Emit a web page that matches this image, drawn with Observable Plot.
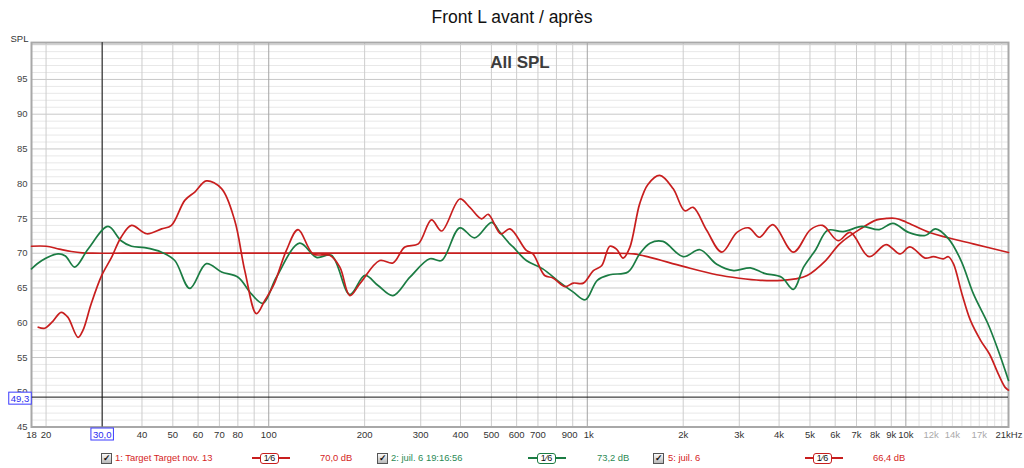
<!DOCTYPE html>
<html><head><meta charset="utf-8">
<script src="https://cdn.jsdelivr.net/npm/d3@7"></script>
<script src="https://cdn.jsdelivr.net/npm/@observablehq/plot@0.6"></script>
<style>
html,body{margin:0;padding:0;background:#fff;overflow:hidden;}
body{width:1024px;height:468px;font-family:"Liberation Sans",Arial,sans-serif;}
#title{height:26px;box-sizing:border-box;padding-top:7px;font-size:17.5px;line-height:20px;text-align:center;color:#111;}
#chart{height:418px;}
#chart svg{display:block;overflow:visible;}
#legend{position:relative;height:24px;font-size:9.4px;}
#legend .cb{position:absolute;top:9px;width:9px;height:9px;border:1px solid #555;background:linear-gradient(#fafafa,#b8b8b8);font-size:9px;line-height:9px;text-align:center;color:#111;font-weight:bold;}
#legend .txt{position:absolute;top:7px;line-height:14px;white-space:nowrap;}
#legend .ln{position:absolute;top:13px;height:0;border-top:2px solid;}
#legend .box{position:absolute;top:8.5px;height:9px;border:1.5px solid;border-radius:3px;background:#fff;font-size:9px;line-height:9px;text-align:center;color:#111;}
</style></head><body>
<div id="title">Front L avant / après</div>
<div id="chart"></div>
<div id="legend"></div>
<script>
// ---- data ----
const targetFreq = [18, 20, 22, 24, 26, 28, 35, 60, 100, 200, 400, 700, 1000, 1200, 1400, 1573, 2000, 2549, 3000, 3500, 4100, 4500, 4900, 5600, 6200, 7200, 8100, 8700, 9300, 10000, 12000, 16270, 21000];
const targetDb   = [71.0, 71.0, 70.6, 70.25, 70.05, 70.0, 70.0, 70.0, 70.0, 70.0, 70.0, 70.0, 70.0, 70.0, 69.9, 69.4, 68.1, 66.9, 66.4, 66.1, 66.1, 66.3, 66.8, 68.95, 71.35, 73.5, 74.8, 75.0, 75.0, 74.5, 72.9, 71.35, 70.1];

const greenFreq = [18.0, 19.4, 21.8, 23.0, 24.6, 27.1, 31.3, 34.4, 37.1, 40.8, 46.1, 50.7, 56.5, 63.7, 71.1, 80.1, 88.2, 95.9, 105.7, 125, 141.2, 157.3, 179.7, 200.4, 220.4, 245.4, 277.5, 320.3, 348.8, 397.9, 443.1, 501, 532, 572, 585, 643.7, 725, 820, 904, 986, 1075, 1177, 1342, 1460, 1573, 1728, 2000, 2258, 2549, 2880, 3251, 3597, 4071, 4436, 4774, 5212, 5682, 6355, 7282, 8250, 9107, 10200, 11500, 12400, 13600, 14900, 16300, 18100, 19500, 21000];
const greenDb   = [67.75, 68.95, 69.9, 69.6, 68.0, 70.6, 73.85, 71.8, 71.0, 70.8, 70.15, 68.95, 64.95, 68.5, 67.3, 66.55, 64.15, 62.8, 66.55, 71.45, 69.4, 69.7, 64.05, 66.8, 65.35, 63.9, 66.55, 69.2, 68.95, 73.65, 72.2, 74.45, 73.0, 71.3, 70.9, 68.95, 67.75, 65.8, 64.4, 63.3, 66.1, 66.9, 67.3, 69.9, 71.45, 71.7, 69.5, 70.5, 68.4, 67.5, 67.9, 67.1, 66.55, 64.8, 68.0, 70.5, 73.3, 73.1, 73.85, 73.4, 74.3, 73.0, 72.55, 73.5, 72.1, 68.95, 64.15, 59.85, 56.0, 51.7];

const redFreq = [18.9, 19.8, 21.0, 22.3, 23.4, 25.2, 26.1, 27.7, 29.9, 32.1, 34.4, 37.1, 41.4, 46.1, 49.5, 54.5, 58.6, 63.7, 71.1, 78.2, 84.1, 91.5, 97.2, 104, 113.6, 123.6, 137.8, 155.4, 167.2, 179.7, 193.2, 223, 245.4, 267.5, 294.8, 324.3, 348.8, 397.9, 428, 465.5, 488.7, 535, 572, 643.7, 675, 734.8, 780, 850.6, 904, 972, 1045, 1109, 1177, 1235, 1296, 1359, 1460, 1550, 1688, 1859, 2023, 2149, 2370, 2644, 2950, 3213, 3466, 3825, 4436, 5020, 5476, 6127, 6689, 7664, 8673, 9577, 10300, 11500, 12200, 13100, 13600, 14100, 15000, 15960, 17200, 18300, 19500, 20500, 21000];
const redDb   = [59.35, 59.2, 60.2, 61.5, 60.8, 57.9, 58.9, 62.7, 66.8, 69.4, 72.3, 74.0, 72.8, 73.5, 74.0, 77.6, 78.8, 80.4, 79.3, 74.7, 67.5, 61.3, 63.2, 65.6, 70.4, 73.4, 69.9, 69.7, 68.0, 63.9, 65.6, 68.95, 68.6, 70.9, 71.35, 74.8, 73.2, 77.8, 76.6, 74.95, 75.6, 72.8, 73.5, 70.4, 69.9, 66.8, 66.45, 65.2, 65.7, 65.7, 67.5, 68.2, 71.0, 70.6, 69.3, 70.8, 77.1, 79.9, 81.2, 79.3, 76.1, 76.6, 73.3, 70.15, 73.0, 73.65, 72.3, 74.1, 70.15, 73.4, 74.0, 71.8, 73.0, 69.5, 71.25, 69.9, 70.9, 69.3, 69.5, 69.2, 69.5, 68.5, 64.15, 60.3, 57.4, 55.5, 52.65, 50.7, 50.3];

const xLabelFreqs = [18, 20, 40, 50, 60, 70, 80, 100, 200, 300, 400, 500, 600, 700, 900, 1000, 2000, 3000, 4000, 5000, 6000, 7000, 8000, 9000, 10000, 12000, 14000, 17000];
const xLabelTexts = ["18", "20", "40", "50", "60", "70", "80", "100", "200", "300", "400", "500", "600", "700", "900", "1k", "2k", "3k", "4k", "5k", "6k", "7k", "8k", "9k", "10k", "12k", "14k", "17k"];
const xLabelLight = [12000, 14000, 17000];
const yTicks = [45, 50, 55, 60, 65, 70, 75, 80, 85, 90, 95];

const cursorFreq = 30.0;
const cursorDb = 49.3;

const legendNames  = ["1: Target Target nov. 13", "2: juil. 6 19:16:56", "5: juil. 6"];
const legendLevels = ["70,0 dB", "73,2 dB", "66,4 dB"];

const RED = "#c81e1e", GREEN = "#1b7c43";
const seriesColors = [RED, GREEN, RED];
const legendTextColors = ["#d42424", "#2a8a55", "#d42424"];

// ---- tables ----
const target = targetFreq.map((f, i) => ({f, db: targetDb[i]}));
const green = greenFreq.map((f, i) => ({f, db: greenDb[i]}));
const red = redFreq.map((f, i) => ({f, db: redDb[i]}));
const xLabels = xLabelFreqs.map((f, i) => ({f, t: xLabelTexts[i], light: xLabelLight.includes(f), dx: f === 900 ? -3 : f === 1000 ? 1 : 0}));

// grid lines
const xDecades = [100, 1000, 10000];
const xMinor = [];
for (const d of [10, 100, 1000]) for (let k = 2; k <= 9; k++) { const f = k * d; if (f >= 18) xMinor.push(f); }
const xMinorHF = [];
for (let k = 11; k <= 20; k++) xMinorHF.push(k * 1000);
const yMinor = d3.range(46, 101, 1).filter(v => v % 5 !== 0);
const yMajor = d3.range(50, 101, 5);

const fmt = d => d.toFixed(1).replace(".", ",");

const chart = Plot.plot({
  width: 1024, height: 418,
  marginLeft: 31, marginRight: 16, marginTop: 16.1, marginBottom: 17.5,
  x: {type: "log", domain: [18, 21000], axis: null},
  y: {domain: [45, 100.3], axis: null},
  style: {fontFamily: "'Liberation Sans', Arial, sans-serif", fontSize: "9.5px", background: "#fff", color: "#333"},
  marks: [
    Plot.ruleY(yMinor, {stroke: "#e8e8e8"}),
    Plot.ruleY(yMajor, {stroke: "#c8c8c8"}),
    Plot.ruleX(xMinorHF, {stroke: "#e2e2e2"}),
    Plot.ruleX(xMinor, {stroke: "#cdcdcd"}),
    Plot.ruleX(xDecades, {stroke: "#a4a4a4"}),
    Plot.frame({stroke: "#a8a8a8", strokeWidth: 2}),
    Plot.ruleX([cursorFreq], {stroke: "#111", strokeWidth: 1}),
    Plot.ruleY([cursorDb], {stroke: "#111", strokeWidth: 1}),
    Plot.line(target, {x: "f", y: "db", stroke: seriesColors[0], strokeWidth: 1.7, curve: "catmull-rom"}),
    Plot.line(green, {x: "f", y: "db", stroke: seriesColors[1], strokeWidth: 1.7, curve: "catmull-rom"}),
    Plot.line(red, {x: "f", y: "db", stroke: seriesColors[2], strokeWidth: 1.7, curve: "catmull-rom"}),
    Plot.text(yTicks, {y: d => d, frameAnchor: "left", dx: -4, textAnchor: "end", text: d => String(d), fill: "#444"}),
    Plot.text(xLabels.filter(d => d.dx === 0), {x: "f", frameAnchor: "bottom", dy: 10.5, text: "t", fill: d => d.light ? "#aaaaaa" : "#333"}),
    Plot.text(xLabels.filter(d => d.dx < 0), {x: "f", frameAnchor: "bottom", dy: 10.5, dx: -3, text: "t", fill: "#333"}),
    Plot.text(xLabels.filter(d => d.dx > 0), {x: "f", frameAnchor: "bottom", dy: 10.5, dx: 1.5, text: "t", fill: "#333"}),
    Plot.text(["21kHz"], {x: [21000], frameAnchor: "bottom", dy: 10.5, dx: -13, textAnchor: "start", text: d => d, fill: "#333"}),
    Plot.text(["SPL"], {frameAnchor: "top-left", dx: -3, dy: -7, textAnchor: "end", text: d => d, fill: "#333"}),
    Plot.text(["All SPL"], {frameAnchor: "top", dy: 13, text: d => d, fontSize: 17, fontWeight: "bold", fill: "#3c3c3c"}),
    Plot.text([cursorFreq], {x: d => d, frameAnchor: "bottom", dy: 10.5, text: fmt, fill: "#2b2bf0"}),
    Plot.text([cursorDb], {y: d => d, frameAnchor: "left", dx: -11.5, dy: 1.5, textAnchor: "middle", text: fmt, fill: "#2b2bf0"})
  ]
});
document.getElementById("chart").appendChild(chart);

// boxes behind cursor labels
const cursorTexts = [cursorFreq, cursorDb].map(fmt);
chart.querySelectorAll("text").forEach(t => {
  if (cursorTexts.includes(t.textContent)) {
    const b = t.getBBox();
    const r = document.createElementNS("http://www.w3.org/2000/svg", "rect");
    r.setAttribute("x", b.x - 2); r.setAttribute("y", b.y - 0.5);
    r.setAttribute("width", b.width + 4); r.setAttribute("height", b.height + 1);
    r.setAttribute("fill", "#fff"); r.setAttribute("stroke", "#3a3aff"); r.setAttribute("stroke-width", 1);
    const tr = t.getAttribute("transform");
    if (tr) r.setAttribute("transform", tr);
    t.parentNode.insertBefore(r, t);
  }
});

// legend
const leg = document.getElementById("legend");
const cbX = [101, 377, 653], txtX = [115, 391, 668], lnX = [252, 528, 805], boxX = [260, 537, 813], lvlX = [320, 597, 873];
legendNames.forEach((name, i) => {
  const c = seriesColors[i];
  leg.insertAdjacentHTML("beforeend",
    `<div class="cb" style="left:${cbX[i]}px">✓</div>` +
    `<div class="txt" style="left:${txtX[i]}px;color:${legendTextColors[i]}">${name}</div>` +
    `<div class="ln" style="left:${lnX[i]}px;width:38px;border-color:${c}"></div>` +
    `<div class="box" style="left:${boxX[i]}px;width:17px;border-color:${c}">1⁄6</div>` +
    `<div class="txt" style="left:${lvlX[i]}px;color:${legendTextColors[i]}">${legendLevels[i]}</div>`);
});
</script></body></html>
